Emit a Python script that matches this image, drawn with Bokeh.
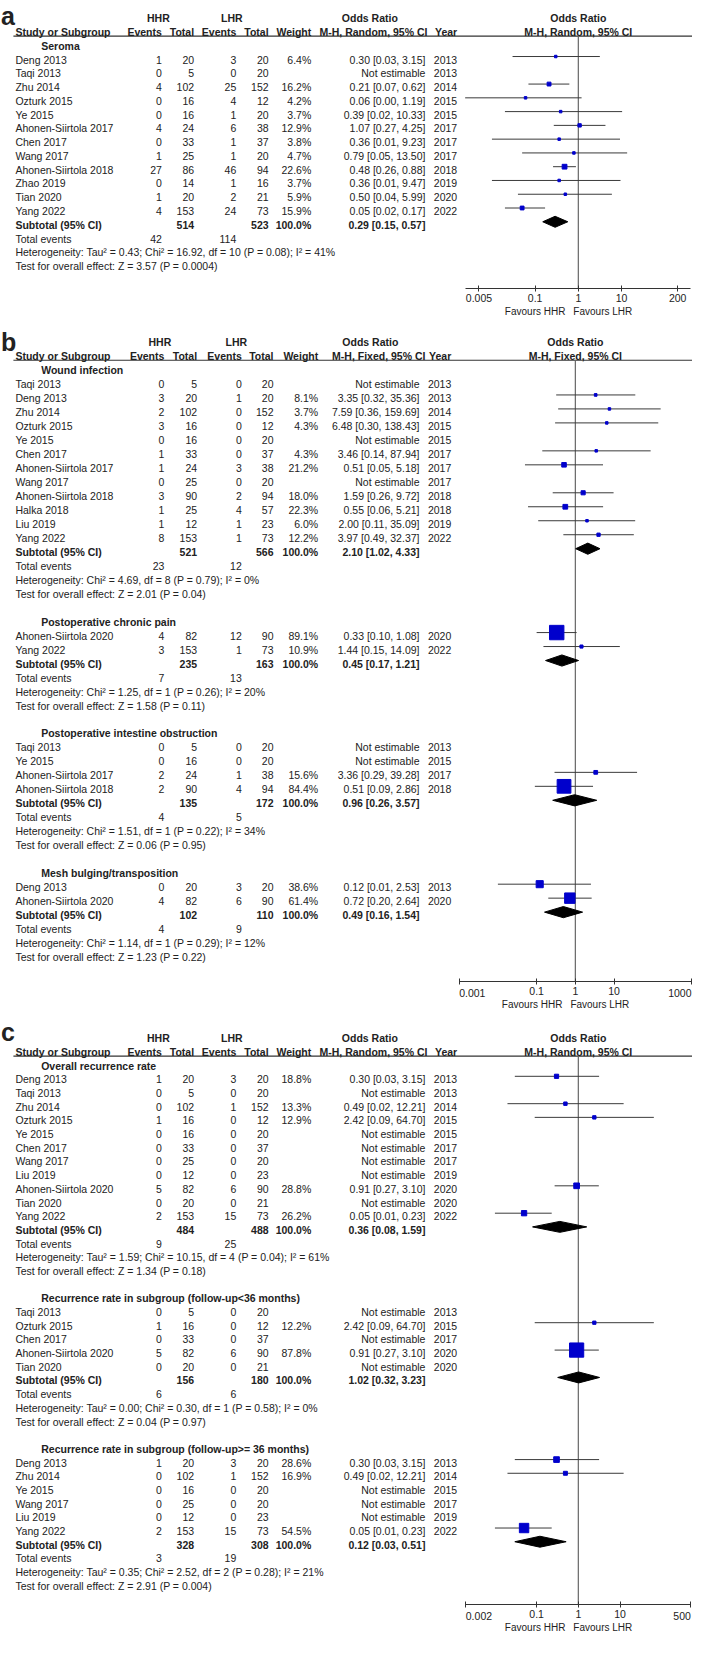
from bokeh.plotting import figure
from bokeh.models import (Range1d, LogScale, LogAxis, FixedTicker,
                          CustomJSTickFormatter, ColumnDataSource)
from bokeh.layouts import column
from bokeh.embed import file_html
from bokeh.resources import INLINE
from bokeh.core.properties import value
import json

# ===================== DATA =====================
# ---- Panel a: Seroma (M-H, Random) ----
a_titles = ["Seroma"]
a_group = [0, 0, 0, 0, 0, 0, 0, 0, 0, 0, 0, 0]
a_names = ["Deng 2013", "Taqi 2013", "Zhu 2014", "Ozturk 2015", "Ye 2015", "Ahonen-Siirtola 2017",
           "Chen 2017", "Wang 2017", "Ahonen-Siirtola 2018", "Zhao 2019", "Tian 2020", "Yang 2022"]
a_hhr_events = [1, 0, 4, 0, 0, 4, 0, 1, 27, 0, 1, 4]
a_hhr_total = [20, 5, 102, 16, 16, 24, 33, 25, 86, 14, 20, 153]
a_lhr_events = [3, 0, 25, 4, 1, 6, 1, 1, 46, 1, 2, 24]
a_lhr_total = [20, 20, 152, 12, 20, 38, 37, 20, 94, 16, 21, 73]
a_weight = [6.4, None, 16.2, 4.2, 3.7, 12.9, 3.8, 4.7, 22.6, 3.7, 5.9, 15.9]
a_or = [0.30, None, 0.21, 0.06, 0.39, 1.07, 0.36, 0.79, 0.48, 0.36, 0.50, 0.05]
a_lo = [0.03, None, 0.07, 0.00, 0.02, 0.27, 0.01, 0.05, 0.26, 0.01, 0.04, 0.02]
a_hi = [3.15, None, 0.62, 1.19, 10.33, 4.25, 9.23, 13.50, 0.88, 9.47, 5.99, 0.17]
a_year = [2013, 2013, 2014, 2015, 2015, 2017, 2017, 2017, 2018, 2019, 2020, 2022]
a_sub_hhr_total = [514]
a_sub_lhr_total = [523]
a_sub_or = [0.29]
a_sub_lo = [0.15]
a_sub_hi = [0.57]
a_tot_hhr_events = [42]
a_tot_lhr_events = [114]
a_het = ["Tau² = 0.43; Chi² = 16.92, df = 10 (P = 0.08); I² = 41%"]
a_test = ["Z = 3.57 (P = 0.0004)"]
a_ticks = [0.005, 0.1, 1, 10, 200]
a_tick_labels = ["0.005", "0.1", "1", "10", "200"]

# ---- Panel b: complications (M-H, Fixed) ----
b_titles = ["Wound infection", "Postoperative chronic pain",
            "Postoperative intestine obstruction", "Mesh bulging/transposition"]
b_group = [0, 0, 0, 0, 0, 0, 0, 0, 0, 0, 0, 0, 1, 1, 2, 2, 2, 2, 3, 3]
b_names = ["Taqi 2013", "Deng 2013", "Zhu 2014", "Ozturk 2015", "Ye 2015", "Chen 2017",
           "Ahonen-Siirtola 2017", "Wang 2017", "Ahonen-Siirtola 2018", "Halka 2018", "Liu 2019", "Yang 2022",
           "Ahonen-Siirtola 2020", "Yang 2022",
           "Taqi 2013", "Ye 2015", "Ahonen-Siirtola 2017", "Ahonen-Siirtola 2018",
           "Deng 2013", "Ahonen-Siirtola 2020"]
b_hhr_events = [0, 3, 2, 3, 0, 1, 1, 0, 3, 1, 1, 8, 4, 3, 0, 0, 2, 2, 0, 4]
b_hhr_total = [5, 20, 102, 16, 16, 33, 24, 25, 90, 25, 12, 153, 82, 153, 5, 16, 24, 90, 20, 82]
b_lhr_events = [0, 1, 0, 0, 0, 0, 3, 0, 2, 4, 1, 1, 12, 1, 0, 0, 1, 4, 3, 6]
b_lhr_total = [20, 20, 152, 12, 20, 37, 38, 20, 94, 57, 23, 73, 90, 73, 20, 20, 38, 94, 20, 90]
b_weight = [None, 8.1, 3.7, 4.3, None, 4.3, 21.2, None, 18.0, 22.3, 6.0, 12.2,
            89.1, 10.9, None, None, 15.6, 84.4, 38.6, 61.4]
b_or = [None, 3.35, 7.59, 6.48, None, 3.46, 0.51, None, 1.59, 0.55, 2.00, 3.97,
        0.33, 1.44, None, None, 3.36, 0.51, 0.12, 0.72]
b_lo = [None, 0.32, 0.36, 0.30, None, 0.14, 0.05, None, 0.26, 0.06, 0.11, 0.49,
        0.10, 0.15, None, None, 0.29, 0.09, 0.01, 0.20]
b_hi = [None, 35.36, 159.69, 138.43, None, 87.94, 5.18, None, 9.72, 5.21, 35.09, 32.37,
        1.08, 14.09, None, None, 39.28, 2.86, 2.53, 2.64]
b_year = [2013, 2013, 2014, 2015, 2015, 2017, 2017, 2017, 2018, 2018, 2019, 2022,
          2020, 2022, 2013, 2015, 2017, 2018, 2013, 2020]
b_sub_hhr_total = [521, 235, 135, 102]
b_sub_lhr_total = [566, 163, 172, 110]
b_sub_or = [2.10, 0.45, 0.96, 0.49]
b_sub_lo = [1.02, 0.17, 0.26, 0.16]
b_sub_hi = [4.33, 1.21, 3.57, 1.54]
b_tot_hhr_events = [23, 7, 4, 4]
b_tot_lhr_events = [12, 13, 5, 9]
b_het = ["Chi² = 4.69, df = 8 (P = 0.79); I² = 0%",
         "Chi² = 1.25, df = 1 (P = 0.26); I² = 20%",
         "Chi² = 1.51, df = 1 (P = 0.22); I² = 34%",
         "Chi² = 1.14, df = 1 (P = 0.29); I² = 12%"]
b_test = ["Z = 2.01 (P = 0.04)", "Z = 1.58 (P = 0.11)", "Z = 0.06 (P = 0.95)", "Z = 1.23 (P = 0.22)"]
b_ticks = [0.001, 0.1, 1, 10, 1000]
b_tick_labels = ["0.001", "0.1", "1", "10", "1000"]

# ---- Panel c: recurrence (M-H, Random) ----
c_titles = ["Overall recurrence rate", "Recurrence rate in subgroup (follow-up<36 months)",
            "Recurrence rate in subgroup (follow-up>= 36 months)"]
c_group = [0, 0, 0, 0, 0, 0, 0, 0, 0, 0, 0, 1, 1, 1, 1, 1, 2, 2, 2, 2, 2, 2]
c_names = ["Deng 2013", "Taqi 2013", "Zhu 2014", "Ozturk 2015", "Ye 2015", "Chen 2017", "Wang 2017",
           "Liu 2019", "Ahonen-Siirtola 2020", "Tian 2020", "Yang 2022",
           "Taqi 2013", "Ozturk 2015", "Chen 2017", "Ahonen-Siirtola 2020", "Tian 2020",
           "Deng 2013", "Zhu 2014", "Ye 2015", "Wang 2017", "Liu 2019", "Yang 2022"]
c_hhr_events = [1, 0, 0, 1, 0, 0, 0, 0, 5, 0, 2, 0, 1, 0, 5, 0, 1, 0, 0, 0, 0, 2]
c_hhr_total = [20, 5, 102, 16, 16, 33, 25, 12, 82, 20, 153, 5, 16, 33, 82, 20, 20, 102, 16, 25, 12, 153]
c_lhr_events = [3, 0, 1, 0, 0, 0, 0, 0, 6, 0, 15, 0, 0, 0, 6, 0, 3, 1, 0, 0, 0, 15]
c_lhr_total = [20, 20, 152, 12, 20, 37, 20, 23, 90, 21, 73, 20, 12, 37, 90, 21, 20, 152, 20, 20, 23, 73]
c_weight = [18.8, None, 13.3, 12.9, None, None, None, None, 28.8, None, 26.2,
            None, 12.2, None, 87.8, None, 28.6, 16.9, None, None, None, 54.5]
c_or = [0.30, None, 0.49, 2.42, None, None, None, None, 0.91, None, 0.05,
        None, 2.42, None, 0.91, None, 0.30, 0.49, None, None, None, 0.05]
c_lo = [0.03, None, 0.02, 0.09, None, None, None, None, 0.27, None, 0.01,
        None, 0.09, None, 0.27, None, 0.03, 0.02, None, None, None, 0.01]
c_hi = [3.15, None, 12.21, 64.70, None, None, None, None, 3.10, None, 0.23,
        None, 64.70, None, 3.10, None, 3.15, 12.21, None, None, None, 0.23]
c_year = [2013, 2013, 2014, 2015, 2015, 2017, 2017, 2019, 2020, 2020, 2022,
          2013, 2015, 2017, 2020, 2020, 2013, 2014, 2015, 2017, 2019, 2022]
c_sub_hhr_total = [484, 156, 328]
c_sub_lhr_total = [488, 180, 308]
c_sub_or = [0.36, 1.02, 0.12]
c_sub_lo = [0.08, 0.32, 0.03]
c_sub_hi = [1.59, 3.23, 0.51]
c_tot_hhr_events = [9, 6, 3]
c_tot_lhr_events = [25, 6, 19]
c_het = ["Tau² = 1.59; Chi² = 10.15, df = 4 (P = 0.04); I² = 61%",
         "Tau² = 0.00; Chi² = 0.30, df = 1 (P = 0.58); I² = 0%",
         "Tau² = 0.35; Chi² = 2.52, df = 2 (P = 0.28); I² = 21%"]
c_test = ["Z = 1.34 (P = 0.18)", "Z = 0.04 (P = 0.97)", "Z = 2.91 (P = 0.004)"]
c_ticks = [0.002, 0.1, 1, 10, 500]
c_tick_labels = ["0.002", "0.1", "1", "10", "500"]

# ===================== STYLE / LAYOUT =====================
FONT = "Liberation Sans"
TXT = "#222222"
FS = "10.5px"
XL, XR = 2.0, 699.0          # horizontal span in reference-pixel units
W = 692

COLS_AC = dict(name=17, head=43, e1=164.5, t1=197, e2=239.5, t2=272, w=315, ci=430, yr=462,
               hci=432, hhr=161, lhr=235, orh=374)
COLS_B = dict(name=17, head=43, e1=167, t1=200, e2=245, t2=277, w=322, ci=424, yr=456,
              hci=430, hhr=162.5, lhr=239.5, orh=374.5)

LAY_A = dict(letter="a", method="M-H, Random, 95% CI", top=0, bottom=325, height=322,
             row0=17.9, pitch=13.9, x1=584, dec=43.5, axis_y=291, ax0=470, ax1=697,
             label_base=15.5, cols=COLS_AC, inward=False)
LAY_B = dict(letter="b", method="M-H, Fixed, 95% CI", top=325, bottom=1022, height=690,
             row0=344.8, pitch=14.12, x1=581, dec=39.0, axis_y=991, ax0=464, ax1=698,
             label_base=345, cols=COLS_B, inward=True)
LAY_C = dict(letter="c", method="M-H, Random, 95% CI", top=1022, bottom=1653, height=625,
             row0=1048, pitch=13.82, x1=584, dec=42.0, axis_y=1620, ax0=470.6, ax1=697.4,
             label_base=1042, cols=COLS_AC, inward=True)


def build(D, L):
    pitch, row0, x1, dec = L["pitch"], L["row0"], L["x1"], L["dec"]
    r = lambda yref: (yref - row0) / pitch
    px2or = lambda xref: 10 ** ((xref - x1) / dec)
    cols = L["cols"]

    p = figure(width=W, height=L["height"],
               x_range=Range1d(XL, XR),
               y_range=Range1d(r(L["bottom"]), r(L["top"])),
               extra_x_ranges={"or": Range1d(px2or(XL), px2or(XR))},
               extra_x_scales={"or": LogScale()},
               output_backend="svg", toolbar_location=None, min_border=0,
               x_axis_location=None, y_axis_location=None, outline_line_color=None,
               background_fill_color="white", border_fill_color="white")
    p.grid.visible = False

    texts = {}

    def T(x, y, s, align="left", bold=False, size=FS, base="middle", rng="default"):
        key = (align, bold, size, base, rng)
        d = texts.setdefault(key, dict(x=[], y=[], text=[]))
        d["x"].append(x)
        d["y"].append(y)
        d["text"].append(s)

    # headers
    T(2.5, r(L["label_base"]), L["letter"], "left", True, "25px", "alphabetic")
    T(cols["hhr"], 0, "HHR", "center", True)
    T(cols["lhr"], 0, "LHR", "center", True)
    T(cols["orh"], 0, "Odds Ratio", "center", True)
    T(x1, 0, "Odds Ratio", "center", True)
    T(cols["name"], 1, "Study or Subgroup", "left", True)
    T(cols["e1"], 1, "Events", "right", True)
    T(cols["t1"], 1, "Total", "right", True)
    T(cols["e2"], 1, "Events", "right", True)
    T(cols["t2"], 1, "Total", "right", True)
    T(cols["w"], 1, "Weight", "right", True)
    T(cols["hci"], 1, L["method"], "right", True)
    T(cols["yr"], 1, "Year", "right", True)
    T(x1, 1, L["method"], "center", True)

    blo, bhi = px2or(L["ax0"]), px2or(L["ax1"])
    seg = dict(lo=[], hi=[], y=[])
    sq = dict(x=[], y=[], s=[])
    dxs, dys = [], []
    off = -0.22

    row = 2
    for g, title in enumerate(D["titles"]):
        T(cols["head"], row, title, "left", True)
        row += 1
        for i, gi in enumerate(D["group"]):
            if gi != g:
                continue
            T(cols["name"], row, D["names"][i])
            T(cols["e1"], row, str(D["hhr_events"][i]), "right")
            T(cols["t1"], row, str(D["hhr_total"][i]), "right")
            T(cols["e2"], row, str(D["lhr_events"][i]), "right")
            T(cols["t2"], row, str(D["lhr_total"][i]), "right")
            o = D["or"][i]
            if o is None:
                T(cols["ci"], row, "Not estimable", "right")
            else:
                lo, hi, w = D["lo"][i], D["hi"][i], D["weight"][i]
                T(cols["w"], row, f"{w:.1f}%", "right")
                T(cols["ci"], row, f"{o:.2f} [{lo:.2f}, {hi:.2f}]", "right")
                seg["lo"].append(max(lo, blo))
                seg["hi"].append(min(hi, bhi))
                seg["y"].append(row + off)
                sq["x"].append(o)
                sq["y"].append(row + off)
                sq["s"].append(max(2.5, 1.5 + 0.145 * w))
            T(cols["yr"], row, str(D["year"][i]), "right")
            row += 1
        so, sl, sh = D["sub_or"][g], D["sub_lo"][g], D["sub_hi"][g]
        T(cols["name"], row, "Subtotal (95% CI)", "left", True)
        T(cols["t1"], row, str(D["sub_hhr_total"][g]), "right", True)
        T(cols["t2"], row, str(D["sub_lhr_total"][g]), "right", True)
        T(cols["w"], row, "100.0%", "right", True)
        T(cols["ci"], row, f"{so:.2f} [{sl:.2f}, {sh:.2f}]", "right", True)
        yd = row + off
        dxs.append([sl, so, sh, so])
        dys.append([yd, yd - 0.4, yd, yd + 0.4])
        row += 1
        T(cols["name"], row, "Total events")
        T(cols["e1"], row, str(D["tot_hhr_events"][g]), "right")
        T(cols["e2"], row, str(D["tot_lhr_events"][g]), "right")
        row += 1
        T(cols["name"], row, "Heterogeneity: " + D["het"][g])
        row += 1
        T(cols["name"], row, "Test for overall effect: " + D["test"][g])
        row += 2

    axis_row = r(L["axis_y"])
    # header rule and line of no effect
    p.segment(x0=[15], x1=[XR], y0=[1.3], y1=[1.3], line_color="#333333", line_width=1.2)
    p.segment(x0=[1], x1=[1], y0=[1.3], y1=[axis_row], line_color="#666666",
              line_width=1.2, x_range_name="or")
    # CIs, squares, diamonds
    p.segment(x0="lo", x1="hi", y0="y", y1="y", source=ColumnDataSource(seg),
              line_color="#3a3a3a", line_width=1, x_range_name="or")
    p.scatter(x="x", y="y", size="s", marker="square", source=ColumnDataSource(sq),
              fill_color="#0000CC", line_color="#0000CC", x_range_name="or")
    p.patches(xs=dxs, ys=dys, fill_color="black", line_color="black", x_range_name="or")

    # axis
    ticks, labels = D["ticks"], D["tick_labels"]
    shown = list(labels)
    if L["inward"]:
        shown[0] = ""
        shown[-1] = ""
        ly = axis_row + 11.5 / pitch
        T(ticks[0], ly, labels[0], "left", rng="or")
        T(ticks[-1], ly, labels[-1], "right", rng="or")
    lab_map = json.dumps({str(t): s for t, s in zip(ticks, shown)})
    fmt = CustomJSTickFormatter(code=f"const lab = {lab_map}; const s = String(tick); "
                                     f"return (s in lab) ? lab[s] : s;")
    ax = LogAxis(x_range_name="or", ticker=FixedTicker(ticks=ticks), formatter=fmt,
                 fixed_location=axis_row, bounds=(blo, bhi),
                 axis_line_color="#333333", major_tick_line_color="#333333",
                 minor_tick_line_color=None, major_tick_in=3, major_tick_out=3,
                 major_label_standoff=2, major_label_text_font=FONT,
                 major_label_text_font_size=FS, major_label_text_color=TXT)
    p.add_layout(ax, "below")

    fy = axis_row + 22.5 / pitch
    T(x1 - 13, fy, "Favours HHR", "right", size="10px")
    T(x1 - 5, fy, "Favours LHR", "left", size="10px")

    for (align, bold, size, base, rng), d in texts.items():
        p.text(x="x", y="y", text="text", source=ColumnDataSource(d),
               text_align=align, text_baseline=base, text_font=value(FONT),
               text_font_size=value(size), text_font_style="bold" if bold else "normal",
               text_color=TXT, x_range_name=rng)
    return p


def pack(prefix):
    g = globals()
    keys = ["titles", "group", "names", "hhr_events", "hhr_total", "lhr_events", "lhr_total",
            "weight", "or", "lo", "hi", "year", "sub_hhr_total", "sub_lhr_total", "sub_or",
            "sub_lo", "sub_hi", "tot_hhr_events", "tot_lhr_events", "het", "test",
            "ticks", "tick_labels"]
    return {k: g[f"{prefix}_{k}"] for k in keys}


pa = build(pack("a"), LAY_A)
pb = build(pack("b"), LAY_B)
pc = build(pack("c"), LAY_C)

page = column(pa, pb, pc, spacing=0)
with open("out.html", "w", encoding="utf-8") as f:
    f.write(file_html(page, INLINE))
